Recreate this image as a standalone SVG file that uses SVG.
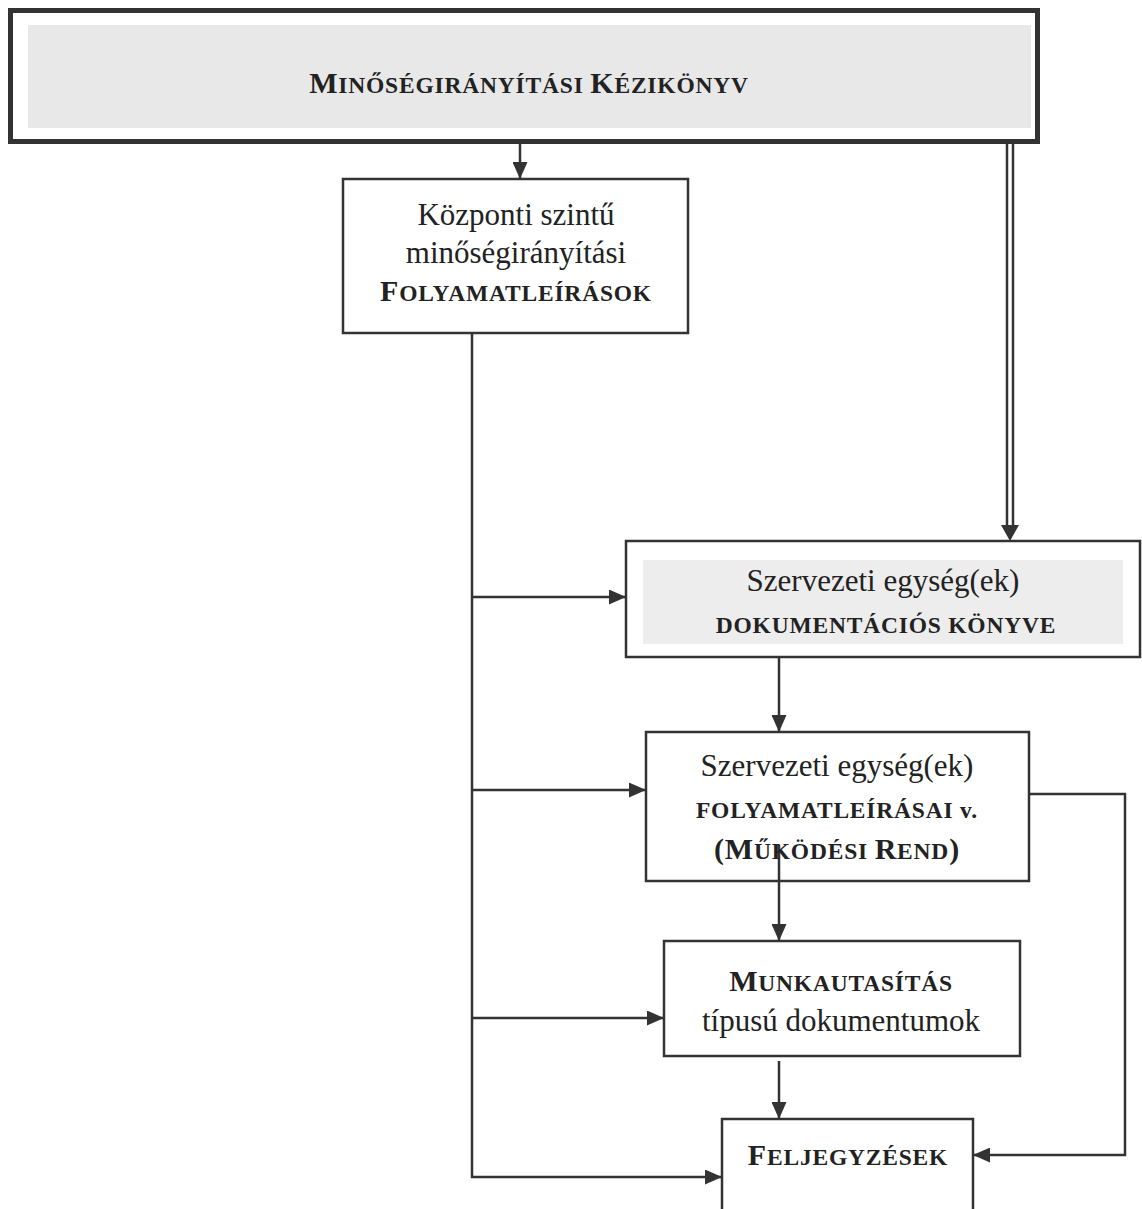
<svg xmlns="http://www.w3.org/2000/svg" width="1142" height="1209" viewBox="0 0 1142 1209">
<defs>
<marker id="arr" markerUnits="userSpaceOnUse" viewBox="0 0 17 15" markerWidth="17" markerHeight="15" refX="17" refY="7.5" orient="auto">
<path d="M0,0 L17,7.5 L0,15 z" fill="#333"/>
</marker>
</defs>
<style>
.box{fill:#fff;stroke:#333;stroke-width:2.5}
.con{fill:none;stroke:#333;stroke-width:2.5}
.t{font-family:"Liberation Serif","Times New Roman",serif;fill:#222;text-anchor:middle}
.r{font-size:31px}
.b{font-size:30px;font-weight:bold;letter-spacing:0.8px}
.s{font-size:23.5px}
</style>
<rect width="1142" height="1209" fill="#fff"/>

<g id="connectors">
<line class="con" x1="520" y1="143" x2="520" y2="179" marker-end="url(#arr)"/>
<line x1="1007" y1="143" x2="1007" y2="528" stroke="#333" stroke-width="2.5"/>
<line x1="1013" y1="143" x2="1013" y2="528" stroke="#333" stroke-width="2.5"/>
<path d="M1001,525 L1019,525 L1010,541 z" fill="#333"/>
<path class="con" d="M472,333 L472,1177 L722,1177" marker-end="url(#arr)"/>
<line class="con" x1="472" y1="597" x2="626" y2="597" marker-end="url(#arr)"/>
<line class="con" x1="472" y1="790" x2="646" y2="790" marker-end="url(#arr)"/>
<line class="con" x1="472" y1="1018" x2="664" y2="1018" marker-end="url(#arr)"/>
<line class="con" x1="779" y1="657" x2="779" y2="732" marker-end="url(#arr)"/>
<line class="con" x1="779" y1="1061" x2="779" y2="1119" marker-end="url(#arr)"/>
<path class="con" d="M1029,794 L1125,794 L1125,1155 L973,1155" marker-end="url(#arr)"/>
</g>

<g id="n1">
<rect x="10.5" y="10.5" width="1027" height="131" fill="#fff" stroke="#333" stroke-width="5"/>
<rect x="28" y="25" width="1003" height="103" fill="#e8e8e8"/>
<text class="t b" x="529" y="93">M<tspan class="s">INŐSÉGIRÁNYÍTÁSI </tspan>K<tspan class="s">ÉZIKÖNYV</tspan></text>
</g>

<g id="n2">
<rect class="box" x="343" y="179" width="345" height="154"/>
<text class="t r" x="516" y="225">Központi szintű</text>
<text class="t r" x="516" y="263">minőségirányítási</text>
<text class="t b" x="516" y="301">F<tspan class="s">OLYAMATLEÍRÁSOK</tspan></text>
</g>

<g id="n3">
<rect class="box" x="626" y="541" width="514" height="116"/>
<rect x="643" y="560" width="480" height="84" fill="#ededed"/>
<text class="t r" x="883" y="591">Szervezeti egység(ek)</text>
<text class="t b s" x="886" y="633">DOKUMENTÁCIÓS KÖNYVE</text>
</g>

<g id="n4">
<rect class="box" x="646" y="732" width="383" height="149"/>
<line class="con" x1="779" y1="845" x2="779" y2="941" marker-end="url(#arr)"/>
<text class="t r" x="837" y="776">Szervezeti egység(ek)</text>
<text class="t b s" x="837" y="818">FOLYAMATLEÍRÁSAI v.</text>
<text class="t b" x="837" y="859">(M<tspan class="s">ŰKÖDÉSI </tspan>R<tspan class="s">END</tspan>)</text>
</g>

<g id="n5">
<rect class="box" x="664" y="941" width="356" height="115"/>
<text class="t b" x="841" y="991">M<tspan class="s">UNKAUTASÍTÁS</tspan></text>
<text class="t r" x="841" y="1031">típusú dokumentumok</text>
</g>

<g id="n6">
<rect class="box" x="722" y="1119" width="251" height="100"/>
<text class="t b" x="848" y="1165">F<tspan class="s">ELJEGYZÉSEK</tspan></text>
</g>
</svg>
